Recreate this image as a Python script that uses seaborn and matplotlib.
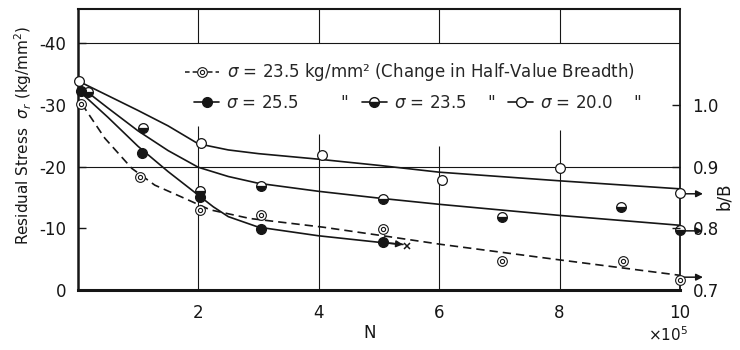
import matplotlib
matplotlib.use("Agg")
import matplotlib.pyplot as plt
import seaborn as sns
from matplotlib.lines import Line2D

# measured points: N (x1e5 cycles) and residual stress magnitude (kg/mm2)
n_open20 = [0.02, 2.05, 4.05, 6.05, 8.0, 10.0]
s_open20 = [33.9, 23.8, 21.9, 17.9, 19.7, 15.7]
n_half23 = [0.17, 1.08, 2.03, 3.05, 5.07, 7.04, 9.02, 10.0]
s_half23 = [32.0, 26.2, 16.1, 16.9, 14.8, 11.9, 13.4, 9.7]
n_fill25 = [0.05, 1.06, 2.03, 3.05, 5.07]
s_fill25 = [32.2, 22.2, 15.0, 9.9, 7.75]
n_hvb = [0.05, 1.03, 2.03, 3.05, 5.07, 7.04, 9.05, 10.0]
s_hvb = [30.2, 18.3, 12.9, 12.1, 9.85, 4.8, 4.7, 1.7]

# fitted curves as drawn in the figure
cn_20 = [0.02, 0.5, 1.0, 1.5, 2.0, 2.5, 3.0, 4.0, 5.0, 6.0, 8.0, 10.0]
cs_20 = [33.8, 31.5, 29.1, 26.6, 23.7, 22.7, 22.1, 21.2, 20.2, 19.1, 17.7, 16.4]
cn_23 = [0.17, 0.5, 1.0, 1.5, 2.0, 2.5, 3.0, 4.0, 5.0, 6.0, 8.0, 10.0]
cs_23 = [32.0, 29.5, 25.8, 22.6, 19.9, 18.4, 17.3, 16.0, 14.9, 13.9, 12.1, 10.5]
cn_25 = [0.05, 0.5, 1.0, 1.5, 2.0, 2.25, 2.5, 3.0, 4.0, 5.0, 5.4]
cs_25 = [32.0, 28.0, 23.3, 19.2, 15.4, 13.5, 11.9, 10.2, 8.8, 7.75, 7.4]
cn_hvb = [0.05, 0.12, 0.45, 0.9, 1.28, 1.72, 2.2, 2.86, 4.07, 5.07, 6.04, 8.0, 10.0]
cs_hvb = [30.0, 29.4, 24.6, 19.7, 17.0, 15.1, 13.0, 11.6, 10.2, 8.8, 7.4, 4.9, 2.4]

# arrows at N = 10 pointing to the b/B scale
arrow_s = [15.6, 9.6, 2.1]

left_ticks = [0, 10, 20, 30, 40]
left_labels = ["0", "-10", "-20", "-30", "-40"]
x_ticks = [2, 4, 6, 8, 10]
right_ticks = [0.7, 0.8, 0.9, 1.0]
grid_x = [2, 4, 6, 8]
grid_gap = [26.6, 25.3, 23.3, 25.9]

k = "#161616"
sns.set_style("white")
plt.rcParams["font.family"] = ["DejaVu Sans"]
plt.rcParams["mathtext.fontset"] = "dejavusans"

fig = plt.figure(figsize=(7.4, 3.5), dpi=100)
ax = fig.add_axes([0.105, 0.171, 0.814, 0.803])
ymax = 45.5

# grid, broken where the legend sits
ax.axhline(20, color=k, lw=0.8)
ax.axhline(40, color=k, lw=0.8)
ax.vlines(grid_x, 0, grid_gap, color=k, lw=0.8)
ax.vlines(grid_x, 40, ymax, color=k, lw=0.8)

sns.lineplot(x=cn_20, y=cs_20, ax=ax, color=k, lw=1.2, sort=False)
sns.lineplot(x=cn_23, y=cs_23, ax=ax, color=k, lw=1.2, sort=False)
sns.lineplot(x=cn_25, y=cs_25, ax=ax, color=k, lw=1.2, sort=False)
sns.lineplot(x=cn_hvb, y=cs_hvb, ax=ax, color=k, lw=1.2, sort=False,
             linestyle=(0, (5, 3)))

ms = 7
ax.plot(n_open20, s_open20, ls="none", marker="o", ms=ms, mfc="white", mec=k,
        mew=0.9, clip_on=False, zorder=5)
ax.plot(n_half23, s_half23, ls="none", marker="o", ms=ms, fillstyle="bottom",
        mfc=k, mfcalt="white", mec=k, mew=0.9, clip_on=False, zorder=5)
ax.plot(n_fill25, s_fill25, ls="none", marker="o", ms=ms, mfc=k, mec=k,
        clip_on=False, zorder=5)
ax.plot(n_hvb, s_hvb, ls="none", marker="o", ms=ms, mfc="white", mec=k,
        mew=0.8, clip_on=False, zorder=5)
ax.plot(n_hvb, s_hvb, ls="none", marker="o", ms=3, mfc="none", mec=k,
        mew=0.8, clip_on=False, zorder=6)

for s in arrow_s:
    ax.annotate("", xy=(10.38, s), xytext=(10.0, s), annotation_clip=False,
                arrowprops=dict(arrowstyle="-|>", color=k, lw=1.1,
                                mutation_scale=10, shrinkA=0, shrinkB=0))
ax.annotate("", xy=(cn_25[-1], cs_25[-1]), xytext=(cn_25[-2], cs_25[-2]),
            arrowprops=dict(arrowstyle="-|>", color=k, lw=1.1,
                            mutation_scale=10, shrinkA=0, shrinkB=0))
ax.plot([cn_25[-1] + 0.07], [cs_25[-1] - 0.2], marker="x", ms=5, color=k, mew=1.1)

ax.set_xlim(0, 10)
ax.set_ylim(0, ymax)
ax.set_yticks(left_ticks)
ax.set_yticklabels(left_labels)
ax.set_xticks(x_ticks)
ax.tick_params(axis="y", direction="in", length=6, width=1, pad=8, labelsize=12,
               colors=k)
ax.tick_params(axis="x", length=0, pad=10, labelsize=12, colors=k)
for side, w in [("left", 1.8), ("bottom", 2.2), ("top", 1.5), ("right", 1.3)]:
    ax.spines[side].set_color(k)
    ax.spines[side].set_linewidth(w)

ax2 = ax.twinx()
ax2.set_ylim(0.7, 0.7 + ymax / 100)
ax2.set_yticks(right_ticks)
ax2.set_yticklabels(["0.7", "0.8", "0.9", "1.0"])
ax2.tick_params(axis="y", direction="in", length=6, width=1, pad=9,
                labelsize=12, colors=k)
for side in ax2.spines:
    ax2.spines[side].set_visible(False)

ax.set_xlabel("N", fontsize=12, color=k)
ax.xaxis.set_label_coords(0.485, -0.12)
ax.set_ylabel("Residual Stress  $\\sigma_r$ (kg/mm$^2$)", fontsize=11, color=k)
ax.yaxis.set_label_coords(-0.072, 0.55)
fig.text(0.979, 0.44, "b/B", fontsize=12, color=k, rotation=90,
         ha="center", va="center")
fig.text(0.875, 0.025, "\u00d710$^5$", fontsize=11, color=k)

# legend
prop = {"size": 12}
h_hvb = (Line2D([], [], color=k, lw=1.1, ls=(0, (3, 2)), marker="o", ms=ms,
                mfc="white", mec=k, mew=0.8),
         Line2D([], [], ls="none", marker="o", ms=3, mfc="none", mec=k, mew=0.8))
leg1 = ax.legend([h_hvb], ["$\\sigma$ = 23.5 kg/mm² (Change in Half-Value Breadth)"],
                 loc="center left", bbox_to_anchor=(0.165, 0.775), frameon=False,
                 prop=prop, handlelength=2.0, handletextpad=0.5, borderpad=0)
ax.add_artist(leg1)
h_fill = Line2D([], [], color=k, lw=1.2, marker="o", ms=ms, mfc=k, mec=k)
h_half = Line2D([], [], color=k, lw=1.2, marker="o", ms=ms, fillstyle="bottom",
                mfc=k, mfcalt="white", mec=k)
h_open = Line2D([], [], color=k, lw=1.2, marker="o", ms=ms, mfc="white", mec=k)
ax.legend([h_fill, h_half, h_open],
          ["$\\sigma$ = 25.5        \"", "$\\sigma$ = 23.5    \"",
           "$\\sigma$ = 20.0    \""],
          loc="center left", bbox_to_anchor=(0.18, 0.665), frameon=False,
          prop=prop, ncol=3, handlelength=1.5, handletextpad=0.4,
          columnspacing=0.8, borderpad=0)

fig.savefig("out.png", dpi=100, facecolor="white")
